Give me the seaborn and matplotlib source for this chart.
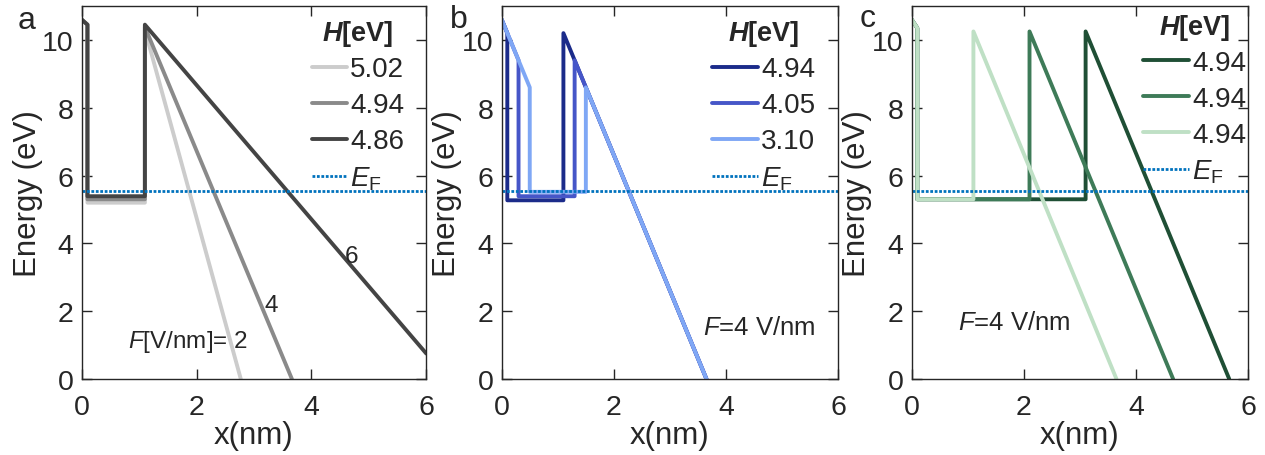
import numpy as np
import pandas as pd
import matplotlib
matplotlib.use("Agg")
import matplotlib.pyplot as plt
import seaborn as sns

# ---------------- data ----------------
EF = 5.54
ef_x = [0, 6]

# panel a  (F labels 2, 4, 6)
a_labels = ["5.02", "4.94", "4.86"]
a_colors = ["#cccccc", "#8a8a8a", "#444444"]
a_light_x = [0, 0.1, 0.1, 1.1, 1.1, 2.77]
a_light_y = [10.6, 10.45, 5.2, 5.2, 10.3, 0]
a_med_x = [0, 0.1, 0.1, 1.1, 1.1, 3.66]
a_med_y = [10.6, 10.45, 5.3, 5.3, 10.38, 0]
a_dark_x = [0, 0.1, 0.1, 1.1, 1.1, 6.0]
a_dark_y = [10.6, 10.45, 5.39, 5.39, 10.45, 0.75]

# panel b
b_labels = ["4.94", "4.05", "3.10"]
b_colors = ["#1b2b8a", "#4656c8", "#7fa7f5"]
b_dark_x = [0, 0.1, 0.1, 1.1, 1.1, 3.65]
b_dark_y = [10.6, 10.2, 5.27, 5.27, 10.2, 0]
b_med_x = [0, 0.3, 0.3, 1.3, 1.3, 3.65]
b_med_y = [10.6, 9.4, 5.39, 5.39, 9.4, 0]
b_light_x = [0, 0.5, 0.5, 1.5, 1.5, 3.65]
b_light_y = [10.6, 8.6, 5.52, 5.52, 8.6, 0]

# panel c
c_labels = ["4.94", "4.94", "4.94"]
c_colors = ["#1f4f35", "#3e7b58", "#bfe0c5"]
c_dark_x = [0, 0.1, 0.1, 3.1, 3.1, 5.66]
c_dark_y = [10.6, 10.35, 5.3, 5.3, 10.25, 0]
c_med_x = [0, 0.1, 0.1, 2.1, 2.1, 4.66]
c_med_y = [10.6, 10.35, 5.3, 5.3, 10.25, 0]
c_light_x = [0, 0.1, 0.1, 1.1, 1.1, 3.65]
c_light_y = [10.6, 10.35, 5.3, 5.3, 10.25, 0]

x_ticks = [0, 2, 4, 6]
y_ticks = [0, 2, 4, 6, 8, 10]

# ---------------- style ----------------
sns.set_theme(style="ticks")
plt.rcParams["font.family"] = ["Liberation Sans", "DejaVu Sans"]
plt.rcParams["mathtext.fontset"] = "custom"
plt.rcParams["mathtext.rm"] = "Liberation Sans"
plt.rcParams["mathtext.it"] = "Liberation Sans:italic"
plt.rcParams["mathtext.bf"] = "Liberation Sans:bold"
plt.rcParams["mathtext.bfit"] = "Liberation Sans:italic:bold"
TXT = "#262626"
plt.rcParams["text.color"] = TXT

fig = plt.figure(figsize=(12.65, 4.56), dpi=100)
W, H = 1265.0, 456.0
top_px, bot_px = 7.0, 380.0
axes_px = [(81.7, 426.3), (501.7, 838.3), (911.7, 1248.3)]
axs = []
for l, r in axes_px:
    axs.append(fig.add_axes([l / W, 1 - bot_px / H, (r - l) / W, (bot_px - top_px) / H]))

LW = 2.8
EF_COLOR = "#0072BD"


def draw(ax, series, labels, colors):
    for (xs, ys), lab, col in zip(series, labels, colors):
        df = pd.DataFrame({"x": xs, "y": ys})
        sns.lineplot(data=df, x="x", y="y", sort=False, estimator=None,
                     color=col, lw=LW, ax=ax, label=lab)
    df = pd.DataFrame({"x": ef_x, "y": [EF, EF]})
    sns.lineplot(data=df, x="x", y="y", sort=False, estimator=None,
                 color=EF_COLOR, lw=2.0, ax=ax, label=r"$E_\mathrm{F}$",
                 linestyle=(0, (1.0, 0.6)))


# panel a: legend order light, medium, dark (dark drawn last)
draw(axs[0], [(a_light_x, a_light_y), (a_med_x, a_med_y), (a_dark_x, a_dark_y)],
     a_labels, a_colors)
# panel b: dark, medium, light (light on top)
draw(axs[1], [(b_dark_x, b_dark_y), (b_med_x, b_med_y), (b_light_x, b_light_y)],
     b_labels, b_colors)
# panel c
draw(axs[2], [(c_dark_x, c_dark_y), (c_med_x, c_med_y), (c_light_x, c_light_y)],
     c_labels, c_colors)

ylab_x = [-0.112, -0.119, -0.119]
leg_anchor = [(0.668, 0.968), (0.624, 0.968), (0.687, 0.985)]
hlen = [1.25, 1.65, 1.65]
for i, ax in enumerate(axs):
    ax.set_xlim(0, 6)
    ax.set_ylim(0, 11)
    ax.set_xticks(x_ticks)
    ax.set_yticks(y_ticks)
    ax.tick_params(direction="in", length=7, width=1.0, top=True, right=True,
                   labelsize=20.5, colors=TXT)
    ax.tick_params(axis="x", pad=11)
    ax.tick_params(axis="y", pad=6)
    for s in ax.spines.values():
        s.set_color(TXT)
        s.set_linewidth(1.0)
    ax.set_xlabel("x(nm)", fontsize=22.5, color=TXT)
    ax.set_ylabel("Energy (eV)", fontsize=22.5, color=TXT)
    ax.xaxis.set_label_coords(0.5, -0.11)
    ax.yaxis.set_label_coords(ylab_x[i], 0.5)
    leg = ax.legend(loc="upper left", bbox_to_anchor=leg_anchor[i], frameon=False,
                    fontsize=20, title=r"$\mathbfit{H}$[eV]",
                    title_fontproperties={"weight": "bold", "size": 19.5},
                    handlelength=hlen[i], handletextpad=0.12, labelspacing=0.36,
                    borderpad=0, borderaxespad=0)
    leg._legend_box.sep = 6

# annotations
axs[0].text(4.70, 3.64, "6", fontsize=17.5, ha="center", va="center")
axs[0].text(3.30, 2.17, "4", fontsize=17.5, ha="center", va="center")
axs[0].text(0.80, 1.13, r"$F$[V/nm]= 2", fontsize=17.5, ha="left", va="center")
axs[1].text(3.59, 1.53, r"$F$=4 V/nm", fontsize=18.5, ha="left", va="center")
axs[2].text(0.83, 1.68, r"$F$=4 V/nm", fontsize=18.5, ha="left", va="center")

# panel letters
for lx, ly, s in [(18, 29, "a"), (450, 28, "b"), (860, 27, "c")]:
    fig.text(lx / W, 1 - ly / H, s, fontsize=23, ha="left", va="baseline")

fig.savefig("out.png", dpi=100)
